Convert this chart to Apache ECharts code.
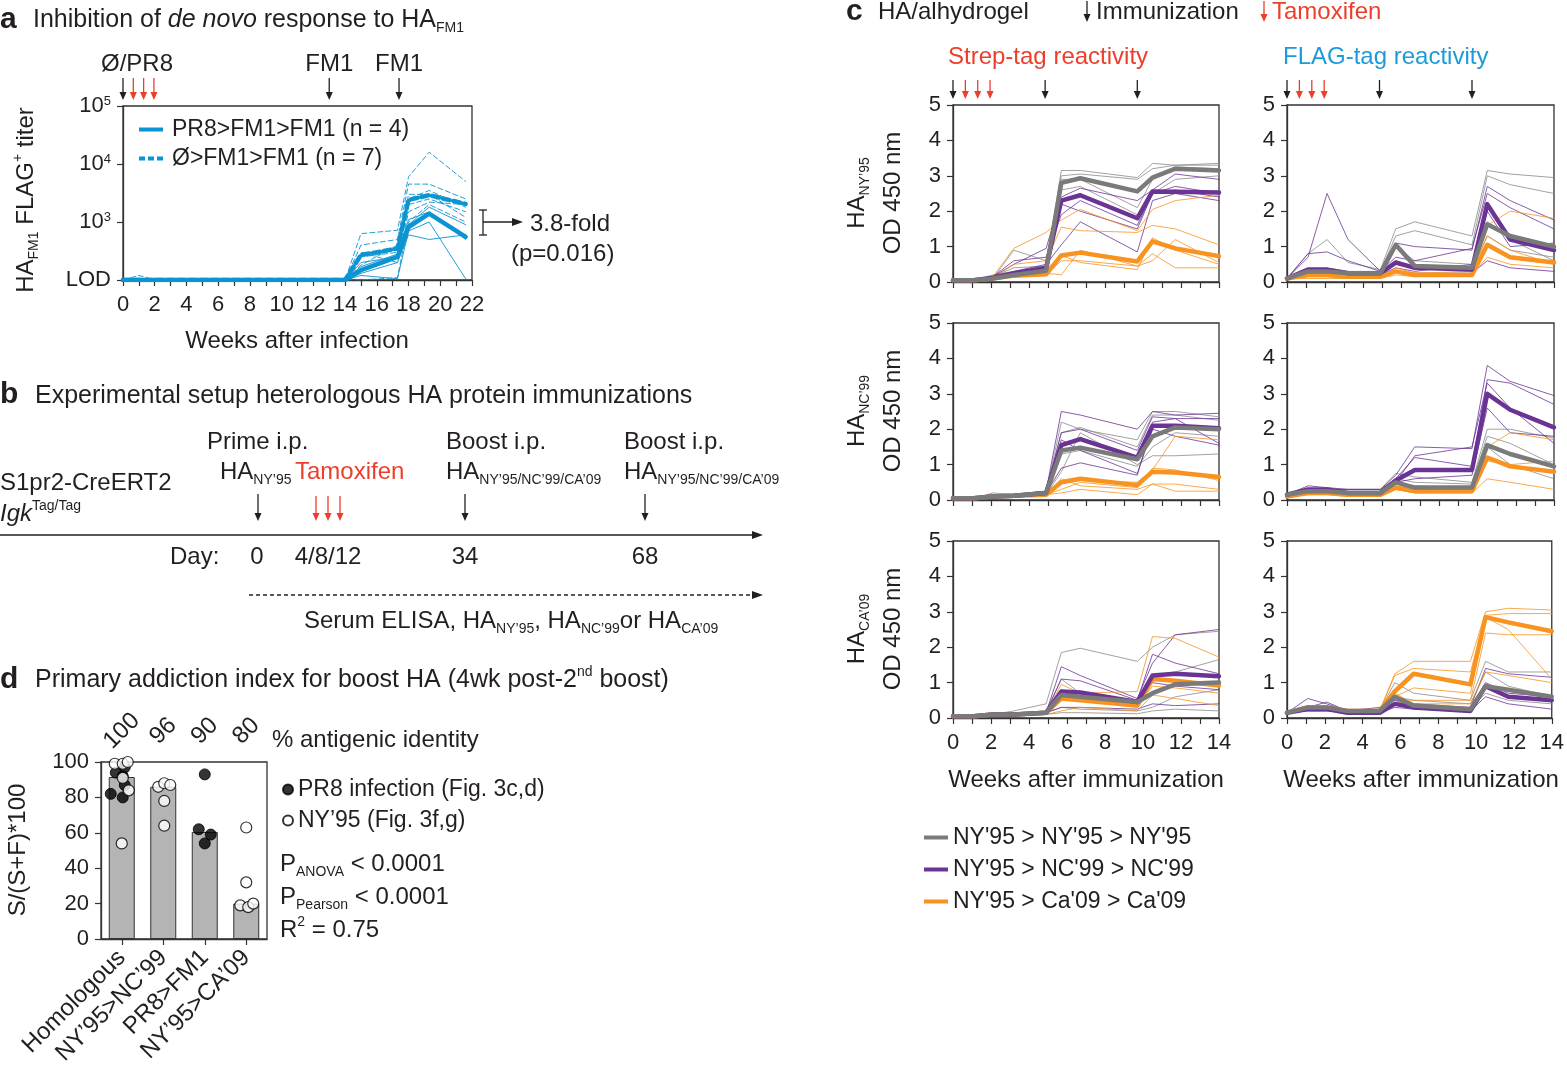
<!DOCTYPE html>
<html><head><meta charset="utf-8">
<script src="https://cdn.jsdelivr.net/npm/echarts@6/dist/echarts.min.js"></script>
<style>html,body{margin:0;padding:0;background:#fff}#c{width:1567px;height:1069px}</style>
</head><body><div id="c"></div>
<script>
// ================= DATA =================
// ---- Panel a (HA FM1 FLAG+ titer, log scale; LOD = 100) ----
const weeksA = [0, 1, 2, 14, 15, 17.3, 18, 19.3, 21.6];
const aMeanPR8   = [100, 100, 100, 100, 148, 251, 820, 1390, 555];
const aMeanNaive = [100, 100, 100, 100, 270, 347, 2400, 2900, 2050];
const aPR8 = [
  [100,100,100,100,120,105,700,1000,105],
  [100,100,100,100,200,250,900,1800,900],
  [100,100,100,100,130,200,600,500,600],
  [100,100,100,100,170,280,1100,1500,500]
];
const aNaive = [
  [100,100,100,100,630,720,6000,16000,5000],
  [100,100,100,100,400,500,4500,4500,2500],
  [100,100,100,100,250,300,2500,3500,1800],
  [100,100,100,100,180,400,2000,2500,1500],
  [100,120,100,100,300,200,1500,2200,2000],
  [100,100,100,100,150,250,3000,3000,1200],
  [100,100,100,100,100,110,1000,2000,1000]
];
const aArrowBlack = [0, 13, 17.4];
const aArrowRed = [0.65, 1.3, 1.95];

// ---- Panel c (OD 450 nm) ----
const weeksC = [0, 1.1, 2.1, 3.2, 4.9, 5.7, 6.7, 9.7, 10.5, 11.7, 14];
const cArrowBlack = [0, 4.85, 9.7];
const cArrowRed = [0.65, 1.3, 1.95];
// Strep-tag, HA NY'95
const sNY_homMean = [0.05,0.05,0.1,0.2,0.32,2.8,2.93,2.56,2.95,3.2,3.15];
const sNY_ncMean  = [0.05,0.05,0.12,0.25,0.4,2.3,2.45,1.8,2.56,2.55,2.53];
const sNY_caMean  = [0.05,0.05,0.1,0.18,0.22,0.75,0.83,0.58,1.15,0.95,0.73];
const sNY_hom = [[0.05,0.05,0.15,0.4,0.45,3.15,3.15,2.95,3.35,3.3,3.35],[0.05,0.05,0.2,0.3,0.3,3.0,3.05,2.9,3.2,3.3,3.3],[0.05,0.05,0.1,0.9,0.6,2.9,2.9,2.1,2.9,3.25,3.2],[0.05,0.05,0.1,0.15,0.2,2.6,2.7,1.9,2.5,2.9,3.0]];
const sNY_nc = [[0.05,0.05,0.15,0.5,0.95,2.4,2.65,2.3,2.6,3.05,2.9],[0.05,0.05,0.15,0.6,0.7,1.9,2.3,1.6,2.5,2.6,2.4],[0.05,0.05,0.1,0.3,0.5,1.05,1.7,0.85,2.3,2.5,2.3],[0.05,0.05,0.1,0.2,0.35,2.2,2.0,1.5,2.5,2.7,2.5]];
const sNY_ca = [[0.05,0.05,0.15,0.95,1.4,1.75,2.05,1.45,2.05,2.3,2.45],[0.05,0.05,0.1,0.5,0.6,1.55,1.45,1.4,1.6,1.5,1.05],[0.05,0.05,0.1,0.2,0.25,0.2,0.9,0.45,0.6,1.2,0.55],[0.05,0.05,0.1,0.15,0.2,0.75,0.55,0.35,1.25,0.9,0.5],[0.05,0.05,0.1,0.15,0.2,0.6,0.6,0.45,0.8,0.4,0.4]];
// FLAG-tag, HA NY'95
const fNY_homMean = [0.1,0.3,0.3,0.25,0.25,1.05,0.45,0.4,1.63,1.3,1.0];
const fNY_ncMean  = [0.1,0.35,0.35,0.25,0.25,0.55,0.4,0.35,2.2,1.2,0.9];
const fNY_caMean  = [0.1,0.2,0.2,0.15,0.15,0.3,0.2,0.2,1.05,0.7,0.55];
const fNY_hom = [[0.1,0.8,1.2,0.55,0.35,1.5,1.7,1.3,3.15,3.05,2.95],[0.1,0.3,0.4,0.3,0.3,1.3,1.45,1.05,3.0,2.75,2.5],[0.1,0.3,0.3,0.25,0.2,1.0,0.6,0.5,1.7,1.2,0.6],[0.1,0.2,0.2,0.2,0.15,0.6,0.4,0.3,1.3,0.9,0.7]];
const fNY_nc = [[0.1,0.7,2.5,1.2,0.3,1.1,1.0,0.9,2.7,2.3,1.75],[0.1,0.8,0.85,0.6,0.3,0.7,0.6,0.95,2.5,2.1,1.5],[0.1,0.3,0.3,0.25,0.2,0.4,0.3,0.5,2.0,1.0,1.1],[0.1,0.2,0.2,0.15,0.15,0.3,0.25,0.25,0.6,0.4,0.3]];
const fNY_ca = [[0.1,0.2,0.2,0.2,0.15,0.3,0.2,0.2,1.6,2.0,1.8],[0.1,0.15,0.15,0.1,0.1,0.4,0.25,0.3,1.3,0.9,0.5],[0.1,0.1,0.1,0.1,0.1,0.2,0.15,0.2,0.7,0.5,0.4]];
// Strep-tag, HA NC'99
const sNC_homMean = [0.05,0.05,0.1,0.12,0.2,1.4,1.48,1.15,1.8,2.05,2.0];
const sNC_ncMean  = [0.05,0.05,0.1,0.12,0.2,1.55,1.72,1.2,2.1,2.1,2.03];
const sNC_caMean  = [0.05,0.05,0.1,0.12,0.15,0.5,0.6,0.42,0.8,0.78,0.65];
const sNC_hom = [[0.05,0.05,0.2,0.15,0.2,2.2,2.0,1.7,2.5,2.5,2.35],[0.05,0.05,0.1,0.15,0.2,1.9,2.05,1.5,2.4,2.4,2.25],[0.05,0.05,0.1,0.1,0.15,0.8,1.9,1.0,1.25,1.25,1.3],[0.05,0.05,0.1,0.1,0.15,1.3,1.4,0.95,1.5,1.9,1.8]];
const sNC_nc = [[0.05,0.05,0.1,0.15,0.25,2.5,2.4,2.0,2.5,2.4,2.45],[0.05,0.05,0.1,0.15,0.25,1.9,2.0,1.4,2.35,2.3,2.3],[0.05,0.05,0.1,0.15,0.2,0.9,1.05,0.7,2.2,2.3,1.6],[0.05,0.05,0.1,0.1,0.2,1.7,1.4,0.75,2.0,1.8,1.55]];
const sNC_ca = [[0.05,0.05,0.1,0.1,0.15,0.5,0.55,0.5,0.85,1.8,1.7],[0.05,0.05,0.1,0.1,0.15,0.3,0.5,0.35,0.9,0.85,0.55],[0.05,0.05,0.1,0.1,0.15,0.2,0.3,0.15,0.45,0.25,0.25],[0.05,0.05,0.1,0.1,0.15,0.6,0.4,0.3,0.45,0.45,0.3]];
// FLAG-tag, HA NC'99
const fNC_homMean = [0.15,0.25,0.25,0.2,0.2,0.5,0.35,0.35,1.55,1.3,0.95];
const fNC_ncMean  = [0.15,0.3,0.3,0.2,0.2,0.55,0.85,0.85,3.0,2.55,2.05];
const fNC_caMean  = [0.1,0.2,0.2,0.15,0.15,0.35,0.25,0.25,1.2,0.95,0.8];
const fNC_hom = [[0.15,0.3,0.3,0.3,0.3,0.75,0.65,0.5,2.0,2.0,1.75],[0.15,0.25,0.25,0.2,0.2,0.6,0.5,0.45,1.8,1.6,1.0],[0.1,0.2,0.2,0.2,0.2,0.45,0.4,0.3,1.5,1.0,0.6]];
const fNC_nc = [[0.15,0.4,0.35,0.3,0.3,0.7,1.5,1.45,3.8,3.35,2.95],[0.15,0.3,0.3,0.3,0.3,0.6,1.2,0.95,3.4,3.3,2.7],[0.15,0.3,0.3,0.2,0.2,0.5,1.25,1.5,3.3,2.6,1.6],[0.15,0.25,0.3,0.2,0.2,0.5,0.6,0.7,2.6,1.9,1.8]];
const fNC_ca = [[0.1,0.2,0.2,0.15,0.15,0.4,0.3,0.3,1.5,1.9,1.7],[0.1,0.2,0.2,0.15,0.15,0.3,0.2,0.25,1.1,1.0,1.1],[0.1,0.15,0.15,0.1,0.1,0.3,0.2,0.2,0.6,0.5,0.3]];
// Strep-tag, HA CA'09
const sCA_homMean = [0.05,0.05,0.1,0.1,0.15,0.65,0.6,0.45,0.7,0.95,1.0];
const sCA_ncMean  = [0.05,0.05,0.1,0.1,0.15,0.75,0.72,0.45,1.2,1.25,1.18];
const sCA_caMean  = [0.05,0.05,0.1,0.1,0.15,0.55,0.5,0.35,1.1,1.05,0.92];
const sCA_hom = [[0.05,0.05,0.1,0.2,0.4,1.85,1.97,1.6,2.0,2.35,2.45],[0.05,0.05,0.1,0.1,0.2,1.1,0.7,0.5,1.2,1.3,1.65],[0.05,0.05,0.1,0.1,0.15,0.3,0.25,0.2,0.3,0.6,0.8],[0.05,0.05,0.1,0.1,0.1,0.15,0.15,0.12,0.2,0.25,0.2]];
const sCA_nc = [[0.05,0.05,0.1,0.1,0.15,1.45,1.2,0.55,1.55,2.35,2.5],[0.05,0.05,0.1,0.1,0.15,1.1,1.05,0.5,1.8,1.55,1.25],[0.05,0.05,0.1,0.1,0.15,0.3,0.3,0.25,0.4,0.35,0.4],[0.05,0.05,0.1,0.1,0.15,0.8,0.6,0.4,1.0,0.9,0.8]];
const sCA_ca = [[0.05,0.05,0.1,0.1,0.15,0.95,0.7,0.75,2.3,2.25,1.72],[0.05,0.05,0.1,0.1,0.15,0.6,0.5,0.3,0.9,0.85,0.7],[0.05,0.05,0.1,0.1,0.1,0.2,0.3,0.2,0.65,0.55,0.35]];
// FLAG-tag, HA CA'09
const fCA_homMean = [0.15,0.3,0.3,0.2,0.2,0.6,0.35,0.25,0.9,0.8,0.6];
const fCA_ncMean  = [0.15,0.25,0.25,0.15,0.15,0.4,0.3,0.2,0.9,0.6,0.5];
const fCA_caMean  = [0.15,0.3,0.3,0.2,0.2,0.75,1.25,0.95,2.85,2.7,2.45];
const fCA_hom = [[0.15,0.3,0.3,0.2,0.2,1.0,0.7,0.5,1.6,1.3,1.3],[0.15,0.25,0.3,0.2,0.2,0.6,0.5,0.4,1.3,0.9,0.6],[0.15,0.25,0.25,0.2,0.2,0.5,0.3,0.25,0.7,0.5,0.4]];
const fCA_nc = [[0.15,0.55,0.4,0.2,0.3,0.5,0.4,0.3,1.4,1.25,1.15],[0.15,0.3,0.45,0.2,0.2,0.4,0.35,0.25,1.0,0.7,0.6],[0.15,0.2,0.2,0.15,0.15,0.3,0.25,0.2,0.6,0.4,0.25]];
const fCA_ca = [[0.15,0.35,0.3,0.2,0.2,1.25,1.6,1.6,3.0,3.1,3.05],[0.15,0.3,0.3,0.2,0.2,1.2,1.4,1.3,2.9,2.95,2.95],[0.15,0.3,0.3,0.2,0.2,0.6,0.85,0.7,2.85,2.5,1.1],[0.15,0.3,0.3,0.2,0.2,0.4,0.5,0.5,2.4,2.35,2.35],[0.15,0.3,0.3,0.2,0.2,0.7,0.4,0.4,1.3,1.2,1.0]];

// ---- Panel d ----
const dCats = ['Homologous', 'NY\u201995>NC\u201999', 'PR8>FM1', 'NY\u201995>CA\u201909'];
const dIdentity = ['100', '96', '90', '80'];
const dBars = [91.5, 86, 60.5, 20];
const dHomFilled = [94, 97, 92, 87, 82, 80];
const dHomOpen = [99, 99, 100, 84, 54, 91];
const dNcOpen = [86, 88, 87, 78, 64];
const dPr8Filled = [93, 62, 59, 54];
const dCaOpen = [63, 32, 19, 18, 20];
// horizontal jitter of the dots (px)
const jHomFilled = [-6, 3, 1, 3, -11, 1];
const jHomOpen = [-7, 1, 6, 7, 0, 1];
const jNcOpen = [-5, 1, 7, 1, 1];
const jPr8Filled = [0, -6, 6, 0];
const jCaOpen = [0, 0, -6, 2, 7];

// ================= STYLE =================
const FF = "'Liberation Sans', Arial, Helvetica, sans-serif";
const TXT = '#231f20', AX = '#333333';
const BLUE = '#0b93d2', RED = '#ec3e2b', FLAGBLUE = '#1d9bd8';
const GRAY = '#8a8a8a', GRAYM = '#7a7a7a', PURP = '#6b3494', ORNG = '#f7931e';
const LEG_HOM = "NY'95 > NY'95 > NY'95", LEG_NC = "NY'95 > NC'99 > NC'99", LEG_CA = "NY'95 > Ca'09 > Ca'09";
const LEG_A1 = 'PR8>FM1>FM1 (n = 4)', LEG_A2 = '\u00D8>FM1>FM1 (n = 7)';
const LEG_D1 = 'PR8 infection (Fig. 3c,d)', LEG_D2 = 'NY\u201995 (Fig. 3f,g)';

const gridBase = {show: true, borderColor: AX, borderWidth: 1.3, backgroundColor: 'transparent'};
const grids = [
  {left: 123, top: 106, width: 349, height: 174},
  {left: 101, top: 762, width: 166, height: 177},
  {left: 953, top: 105, width: 266, height: 177},
  {left: 1287, top: 105, width: 267, height: 177},
  {left: 953, top: 323, width: 266, height: 177},
  {left: 1287, top: 323, width: 267, height: 177},
  {left: 953, top: 541, width: 266, height: 177},
  {left: 1287, top: 541, width: 267, height: 177}
].map(g => Object.assign({}, gridBase, g));

function axBase(extra) {
  return Object.assign({
    axisLine: {show: true, lineStyle: {color: AX, width: 1.3}},
    axisTick: {show: true, length: 6, lineStyle: {color: AX, width: 1.2}},
    splitLine: {show: false},
    axisLabel: {color: TXT, fontSize: 22, fontFamily: FF, margin: 12}
  }, extra);
}
const evenFmt = v => (Math.round(v) % 2 === 0 ? String(Math.round(v)) : '');

const xAxes = [
  axBase({gridIndex: 0, type: 'value', min: 0, max: 22, interval: 1,
    axisLabel: {color: TXT, fontSize: 22, fontFamily: FF, margin: 14, formatter: evenFmt, showMinLabel: true, showMaxLabel: true}}),
  axBase({gridIndex: 1, type: 'category', data: dCats, axisTick: {show: true, alignWithLabel: true, length: 6, lineStyle: {color: AX, width: 1.2}},
    axisLabel: {color: TXT, fontSize: 24, fontFamily: FF, rotate: 45, margin: 15, interval: 0}}),
  axBase({gridIndex: 1, type: 'category', position: 'top', data: dIdentity, axisLine: {show: false}, axisTick: {show: false},
    axisLabel: {color: TXT, fontSize: 24, fontFamily: FF, rotate: -45, margin: 31, interval: 0, align: 'center', verticalAlign: 'middle'}})
];
for (let k = 0; k < 6; k++) {
  xAxes.push(axBase({gridIndex: 2 + k, type: 'value', min: 0, max: 14, interval: 1,
    axisLabel: {show: k >= 4, color: TXT, fontSize: 22, fontFamily: FF, margin: 14, formatter: evenFmt}}));
}
const yAxes = [
  axBase({gridIndex: 0, type: 'log', logBase: 10, min: 100, max: 100000,
    axisLabel: {color: TXT, fontSize: 22, fontFamily: FF, margin: 12,
      formatter: v => (v <= 100 ? 'LOD' : '10{p|' + Math.round(Math.log10(v)) + '}'),
      rich: {p: {fontSize: 13, fontFamily: FF, color: TXT, verticalAlign: 'top', lineHeight: 12}}}}),
  axBase({gridIndex: 1, type: 'value', min: 0, max: 100, interval: 20})
];
for (let k = 0; k < 6; k++) {
  yAxes.push(axBase({gridIndex: 2 + k, type: 'value', min: 0, max: 5, interval: 1,
    axisLabel: {color: TXT, fontSize: 22, fontFamily: FF, margin: 12}}));
}

// ================= SERIES =================
const series = [];
function lineS(name, xi, yi, xs, vals, color, width, type, z) {
  series.push({type: 'line', name, xAxisIndex: xi, yAxisIndex: yi,
    data: xs.map((x, i) => [x, vals[i]]), symbol: 'none', showSymbol: false, silent: true, z,
    color, itemStyle: {color},
    lineStyle: {color, width, type: type || 'solid', cap: 'round', join: 'round'}});
}
// panel a
aNaive.forEach((v, j) => lineS('aN' + j, 0, 0, weeksA, v, BLUE, 0.9, [5, 3], 3));
aPR8.forEach((v, j) => lineS('aP' + j, 0, 0, weeksA, v, BLUE, 0.9, 'solid', 3));
lineS(LEG_A2, 0, 0, weeksA, aMeanNaive, BLUE, 4.5, [7, 4], 5);
lineS(LEG_A1, 0, 0, weeksA, aMeanPR8, BLUE, 4.5, 'solid', 6);

// panel c
const panelsC = [
  {hom: sNY_hom, nc: sNY_nc, ca: sNY_ca, homM: sNY_homMean, ncM: sNY_ncMean, caM: sNY_caMean},
  {hom: fNY_hom, nc: fNY_nc, ca: fNY_ca, homM: fNY_homMean, ncM: fNY_ncMean, caM: fNY_caMean},
  {hom: sNC_hom, nc: sNC_nc, ca: sNC_ca, homM: sNC_homMean, ncM: sNC_ncMean, caM: sNC_caMean},
  {hom: fNC_hom, nc: fNC_nc, ca: fNC_ca, homM: fNC_homMean, ncM: fNC_ncMean, caM: fNC_caMean},
  {hom: sCA_hom, nc: sCA_nc, ca: sCA_ca, homM: sCA_homMean, ncM: sCA_ncMean, caM: sCA_caMean},
  {hom: fCA_hom, nc: fCA_nc, ca: fCA_ca, homM: fCA_homMean, ncM: fCA_ncMean, caM: fCA_caMean}
];
panelsC.forEach((p, k) => {
  const xi = 3 + k, yi = 2 + k;
  p.hom.forEach((v, j) => lineS('c' + k + 'h' + j, xi, yi, weeksC, v, GRAY, 0.8, 'solid', 2));
  p.nc.forEach((v, j) => lineS('c' + k + 'n' + j, xi, yi, weeksC, v, PURP, 0.8, 'solid', 2));
  p.ca.forEach((v, j) => lineS('c' + k + 'c' + j, xi, yi, weeksC, v, ORNG, 0.8, 'solid', 2));
  lineS(LEG_CA, xi, yi, weeksC, p.caM, ORNG, 4.5, 'solid', 5);
  lineS(LEG_NC, xi, yi, weeksC, p.ncM, PURP, 4.5, 'solid', 6);
  lineS(LEG_HOM, xi, yi, weeksC, p.homM, GRAYM, 4.5, 'solid', 7);
});

// panel d
series.push({type: 'bar', name: 'dBars', xAxisIndex: 1, yAxisIndex: 1, data: dBars, barWidth: 26, silent: true,
  itemStyle: {color: '#b4b4b4', borderColor: '#333', borderWidth: 1}, z: 2});
const dots = (cat, vals, jit) => vals.map((v, i) => ({value: [cat, v], symbolOffset: [jit[i], 0]}));
series.push({type: 'scatter', name: LEG_D1, xAxisIndex: 1, yAxisIndex: 1, symbol: 'circle', symbolSize: 11, silent: true, z: 4,
  data: dots(dCats[0], dHomFilled, jHomFilled).concat(dots(dCats[2], dPr8Filled, jPr8Filled)),
  color: '#000', itemStyle: {color: '#000', borderColor: '#000', borderWidth: 1}});
series.push({type: 'scatter', name: LEG_D2, xAxisIndex: 1, yAxisIndex: 1, symbol: 'circle', symbolSize: 11, silent: true, z: 5,
  data: dots(dCats[0], dHomOpen, jHomOpen).concat(dots(dCats[1], dNcOpen, jNcOpen)).concat(dots(dCats[3], dCaOpen, jCaOpen)),
  color: '#fff', itemStyle: {color: '#fff', borderColor: '#000', borderWidth: 1.2}});

// ================= LEGENDS =================
const lineIcon = 'path://M0,0h24v4h-24z';
const dashIcon = 'path://M0,0h6v4h-6z M9,0h6v4h-6z M18,0h6v4h-6z';
const legends = [
  {left: 134, top: 113, orient: 'vertical', itemWidth: 24, itemHeight: 4, itemGap: 6, selectedMode: false,
    textStyle: {color: TXT, fontSize: 23, fontFamily: FF, padding: [0, 0, 0, 4]},
    data: [{name: LEG_A1, icon: lineIcon}, {name: LEG_A2, icon: dashIcon}]},
  {left: 277, top: 773, orient: 'vertical', itemWidth: 10, itemHeight: 10, itemGap: 8, selectedMode: false,
    textStyle: {color: TXT, fontSize: 23, fontFamily: FF},
    data: [{name: LEG_D1, icon: 'circle'}, {name: LEG_D2, icon: 'circle'}]},
  {left: 919, top: 821, orient: 'vertical', itemWidth: 24, itemHeight: 4, itemGap: 9, selectedMode: false,
    textStyle: {color: TXT, fontSize: 23, fontFamily: FF},
    data: [{name: LEG_HOM, icon: lineIcon}, {name: LEG_NC, icon: lineIcon}, {name: LEG_CA, icon: lineIcon}]}
];

const option = {
  animation: false,
  backgroundColor: '#ffffff',
  textStyle: {fontFamily: FF},
  grid: grids, xAxis: xAxes, yAxis: yAxes, legend: legends, series
};

const chart = echarts.init(document.getElementById('c'));
chart.setOption(option);

// ================= ANNOTATIONS =================
const RICH = {
  s: {fontSize: 14, fontFamily: FF, fill: TXT, verticalAlign: 'bottom', lineHeight: 16},
  p: {fontSize: 14, fontFamily: FF, fill: TXT, verticalAlign: 'top', lineHeight: 16},
  i: {fontSize: 24, fontFamily: FF, fill: TXT, fontStyle: 'italic', lineHeight: 30},
  ti: {fontSize: 25, fontFamily: FF, fill: TXT, fontStyle: 'italic', lineHeight: 30}
};
function T(x, y, text, o) {
  o = o || {};
  return {type: 'text', x, y, rotation: o.rot || 0, z: 50, silent: true,
    style: {text, fill: o.color || TXT, fontSize: o.size || 24, fontFamily: FF,
      fontStyle: o.italic ? 'italic' : 'normal', fontWeight: o.bold ? 'bold' : 'normal',
      align: o.align || 'left', verticalAlign: o.va || 'middle', lineHeight: 30, rich: RICH}};
}
function arrowDown(x, y1, y2, color) {
  return [
    {type: 'line', silent: true, z: 50, shape: {x1: x, y1: y1, x2: x, y2: y2 - 4}, style: {stroke: color, lineWidth: 1.3}},
    {type: 'polygon', silent: true, z: 50, shape: {points: [[x - 3.5, y2 - 8], [x + 3.5, y2 - 8], [x, y2]]}, style: {fill: color}}
  ];
}
function arrowRight(x1, x2, y, color, dashed) {
  return [
    {type: 'line', silent: true, z: 50, shape: {x1: x1, y1: y, x2: x2 - 4, y2: y}, style: {stroke: color, lineWidth: 1.5, lineDash: dashed ? [4, 3] : null}},
    {type: 'polygon', silent: true, z: 50, shape: {points: [[x2 - 11, y - 4], [x2 - 11, y + 4], [x2, y]]}, style: {fill: color}}
  ];
}
const G = [];
const px = (xi, v) => chart.convertToPixel({xAxisIndex: xi}, v);

// ---- panel a ----
G.push(T(0, 20, 'a', {bold: true, size: 30}));
G.push(T(33, 20, 'Inhibition of {ti|de novo} response to HA{s|FM1}', {size: 25}));
G.push(T(101, 64, '\u00D8/PR8'));
G.push(T(px(0, 13), 64, 'FM1', {align: 'center'}));
G.push(T(px(0, 17.4), 64, 'FM1', {align: 'center'}));
aArrowBlack.forEach(w => G.push(...arrowDown(px(0, w), 78, 100, TXT)));
aArrowRed.forEach(w => G.push(...arrowDown(px(0, w), 78, 100, RED)));
G.push(T(26, 200, 'HA{s|FM1} FLAG{p|+} titer', {rot: Math.PI / 2, align: 'center'}));
G.push(T(297, 341, 'Weeks after infection', {align: 'center'}));
// fold bracket
G.push({type: 'line', silent: true, z: 50, shape: {x1: 483, y1: 210, x2: 483, y2: 235}, style: {stroke: TXT, lineWidth: 1.3}});
G.push({type: 'line', silent: true, z: 50, shape: {x1: 479, y1: 210, x2: 487, y2: 210}, style: {stroke: TXT, lineWidth: 1.3}});
G.push({type: 'line', silent: true, z: 50, shape: {x1: 479, y1: 235, x2: 487, y2: 235}, style: {stroke: TXT, lineWidth: 1.3}});
G.push(...arrowRight(483, 523, 222, TXT, false));
G.push(T(530, 224, '3.8-fold'));
G.push(T(511, 254, '(p=0.016)'));

// ---- panel b ----
G.push(T(0, 395, 'b', {bold: true, size: 30}));
G.push(T(35, 396, 'Experimental setup heterologous HA protein immunizations', {size: 25}));
G.push(T(0, 483, 'S1pr2-CreERT2'));
G.push(T(0, 514, '{i|Igk}{p|Tag/Tag}'));
G.push(T(207, 442, 'Prime i.p.'));
G.push(T(220, 472, 'HA{s|NY\u201995}'));
G.push(T(295, 472, 'Tamoxifen', {color: RED}));
G.push(T(446, 442, 'Boost i.p.'));
G.push(T(446, 472, 'HA{s|NY\u201995/NC\u201999/CA\u201909}'));
G.push(T(624, 442, 'Boost i.p.'));
G.push(T(624, 472, 'HA{s|NY\u201995/NC\u201999/CA\u201909}'));
G.push(...arrowDown(258, 494, 521, TXT));
[316, 328, 340].forEach(x => G.push(...arrowDown(x, 496, 521, RED)));
G.push(...arrowDown(465, 494, 521, TXT));
G.push(...arrowDown(645, 494, 521, TXT));
G.push(...arrowRight(0, 763, 535, TXT, false));
G.push(T(170, 557, 'Day:'));
G.push(T(257, 557, '0', {align: 'center'}));
G.push(T(328, 557, '4/8/12', {align: 'center'}));
G.push(T(465, 557, '34', {align: 'center'}));
G.push(T(645, 557, '68', {align: 'center'}));
G.push(...arrowRight(249, 763, 595, TXT, true));
G.push(T(304, 621, 'Serum ELISA, HA{s|NY\u201995}, HA{s|NC\u201999}or HA{s|CA\u201909}'));

// ---- panel c ----
G.push(T(846, 12, 'c', {bold: true, size: 30}));
G.push(T(878, 12, 'HA/alhydrogel'));
G.push(...arrowDown(1087, 1, 22, TXT));
G.push(T(1096, 12, 'Immunization'));
G.push(...arrowDown(1264, 1, 22, RED));
G.push(T(1272, 12, 'Tamoxifen', {color: RED}));
G.push(T(948, 57, 'Strep-tag reactivity', {color: RED}));
G.push(T(1283, 57, 'FLAG-tag reactivity', {color: FLAGBLUE}));
[3, 4].forEach(xi => {
  cArrowBlack.forEach(w => G.push(...arrowDown(px(xi, w), 80, 99, TXT)));
  cArrowRed.forEach(w => G.push(...arrowDown(px(xi, w), 80, 99, RED)));
});
const rowHA = ['NY\u201995', 'NC\u201999', 'CA\u201909'];
[193, 411, 629].forEach((cy, r) => {
  G.push(T(857, cy, 'HA{s|' + rowHA[r] + '}', {rot: Math.PI / 2, align: 'center'}));
  G.push(T(893, cy, 'OD 450 nm', {rot: Math.PI / 2, align: 'center'}));
});
G.push(T(1086, 780, 'Weeks after immunization', {align: 'center'}));
G.push(T(1421, 780, 'Weeks after immunization', {align: 'center'}));

// ---- panel d ----
G.push(T(0, 680, 'd', {bold: true, size: 30}));
G.push(T(35, 680, 'Primary addiction index for boost HA (4wk post-2{p|nd} boost)', {size: 25}));
G.push(T(272, 740, '% antigenic identity'));
G.push(T(18, 850, 'S/(S+F)*100', {rot: Math.PI / 2, align: 'center'}));
G.push(T(280, 864, 'P{s|ANOVA} < 0.0001'));
G.push(T(280, 897, 'P{s|Pearson} < 0.0001'));
G.push(T(280, 930, 'R{p|2} = 0.75'));

chart.setOption({graphic: {elements: G}});
</script></body></html>
